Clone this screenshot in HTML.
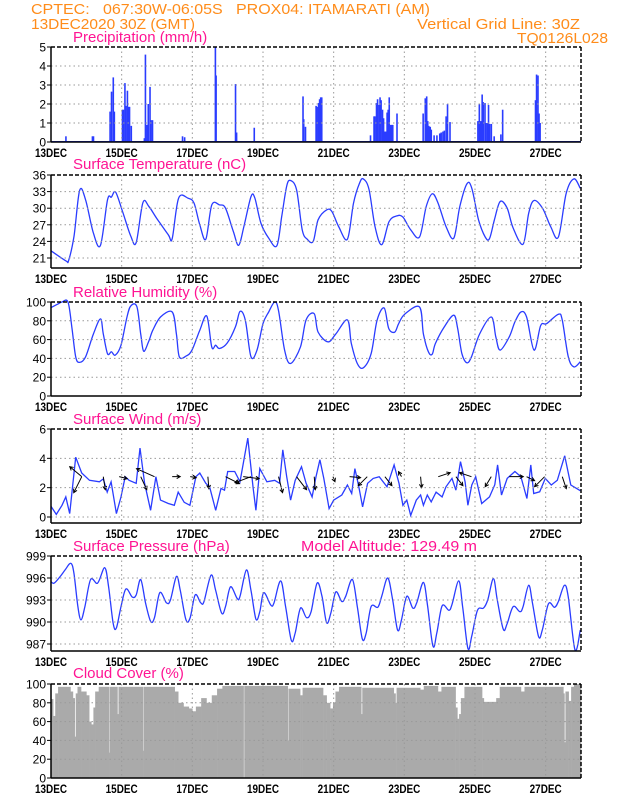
<!DOCTYPE html>
<html><head><meta charset="utf-8">
<style>
html,body{margin:0;padding:0;background:#fff;}
svg{display:block;}
text{font-family:"Liberation Sans",sans-serif;white-space:pre;}
</style></head>
<body>
<svg id="chart" width="618" height="800" viewBox="0 0 618 800" xmlns="http://www.w3.org/2000/svg" xml:space="preserve">
<g fill="#ff8c1a" font-size="15">
<text x="31" y="14" textLength="399" lengthAdjust="spacingAndGlyphs">CPTEC:   067:30W-06:05S   PROX04: ITAMARATI (AM)</text>
<text x="31" y="29" textLength="164" lengthAdjust="spacingAndGlyphs">13DEC2020 30Z (GMT)</text>
<text x="417" y="29" textLength="163" lengthAdjust="spacingAndGlyphs">Vertical Grid Line: 30Z</text>
<text x="517" y="43" textLength="91" lengthAdjust="spacingAndGlyphs">TQ0126L028</text>
</g>
<g id="plots"></g>
</svg>
<script>
// ---------- DATA ----------
const dateLabels = ["13DEC","15DEC","17DEC","19DEC","21DEC","23DEC","25DEC","27DEC"];
const precipTicks = [0,1,2,3,4,5];
const tempTicks = [21,24,27,30,33,36];
const rhTicks = [0,20,40,60,80,100];
const windTicks = [0,2,4,6];
const presTicks = [987,990,993,996,999];
const cloudTicks = [0,20,40,60,80,100];

const precipT = [0.40,1.15,1.18,1.65,1.69,1.74,1.77,2.0,2.03,2.07,2.10,2.14,2.17,2.20,2.25,2.62,2.65,2.69,2.73,2.78,2.81,2.85,3.70,3.76,4.63,4.65,5.20,5.23,5.73,7.11,7.13,7.18,7.48,7.51,7.55,7.58,7.61,7.64,9.02,9.12,9.15,9.19,9.22,9.26,9.29,9.32,9.36,9.39,9.42,9.45,9.49,9.52,9.55,9.59,9.62,9.65,9.77,10.51,10.57,10.61,10.64,10.67,10.71,10.74,10.82,10.90,10.98,11.02,11.07,11.11,11.16,11.20,11.27,12.06,12.10,12.14,12.18,12.21,12.26,12.29,12.33,12.36,12.39,12.44,12.52,12.71,12.76,13.69,13.72,13.76,13.79,13.82];
const precipV = [0.3,0.3,0.3,1.6,2.65,3.4,1.6,1.7,1.7,3.1,1.9,2.7,1.85,1.85,0.85,0.2,4.6,0.9,2.0,2.9,1.15,1.15,0.3,0.25,5.0,3.5,3.05,0.5,0.75,2.4,1.2,0.8,1.9,1.85,2.05,2.25,2.35,2.35,0.35,1.35,1.35,2.05,2.25,1.95,2.35,2.2,1.7,1.25,0.55,0.55,1.55,1.7,2.35,0.9,0.9,0.9,1.5,1.5,2.3,2.4,1.1,0.85,0.8,0.65,0.35,0.35,0.45,0.5,0.55,0.6,1.35,2.0,1.05,1.1,2.0,1.1,2.5,2.1,2.05,1.0,1.0,1.95,0.95,0.95,0.3,0.4,1.7,2.2,3.55,3.5,1.5,1.0];

const tempT = [0,0.42,0.5,0.65,0.81,0.98,1.2,1.4,1.6,1.71,1.83,2.04,2.26,2.41,2.6,2.77,2.99,3.32,3.43,3.61,3.88,4.05,4.21,4.38,4.55,4.77,4.94,5.16,5.31,5.46,5.66,5.77,5.94,6.16,6.39,6.53,6.67,6.78,6.95,7.11,7.25,7.42,7.56,7.8,7.95,8.14,8.39,8.56,8.73,8.84,9.0,9.17,9.36,9.57,9.79,9.96,10.18,10.43,10.62,10.79,10.95,11.18,11.4,11.57,11.77,11.91,12.1,12.29,12.41,12.55,12.71,12.91,13.08,13.36,13.52,13.67,13.91,14.14,14.36,14.58,14.8,14.98];
const tempV = [22.3,20.5,20.6,24.9,33.2,31.5,25.5,23.3,31.5,32.0,32.9,29.1,24.9,23.8,31.0,30.3,28.2,25.2,24.5,31.8,31.8,30.9,27.0,24.4,30.6,30.6,30.0,25.8,23.3,26.7,32.1,31.8,27.3,24.6,23.2,28.5,34.0,35.0,33.3,26.1,24.4,24.0,27.9,29.7,29.4,26.7,24.4,30.9,34.5,35.3,33.4,26.7,23.4,27.6,28.6,28.4,26.1,24.8,30.3,32.6,31.0,26.7,24.6,30.3,34.4,33.6,27.9,24.8,24.5,27.9,31.2,30.0,26.4,23.5,29.1,31.4,30.0,26.7,24.8,32.7,35.3,33.6];

const rhT = [0,0.2,0.31,0.48,0.59,0.7,0.81,0.98,1.2,1.4,1.48,1.6,1.71,1.82,1.98,2.15,2.26,2.43,2.54,2.62,2.76,2.88,3.1,3.43,3.55,3.63,3.82,3.99,4.21,4.41,4.55,4.66,4.77,4.99,5.22,5.35,5.5,5.66,5.83,6.0,6.16,6.33,6.44,6.61,6.78,7.06,7.22,7.45,7.56,7.84,8.06,8.39,8.5,8.67,8.84,9.06,9.23,9.43,9.56,9.73,9.84,10.01,10.43,10.54,10.68,10.79,10.88,11.13,11.4,11.51,11.63,11.77,11.9,12.13,12.46,12.59,12.71,12.97,13.13,13.3,13.46,13.67,13.86,14.03,14.36,14.47,14.64,14.8,14.98];
const rhV = [94,98,100,100,73.5,41.7,35.7,41.7,66,82,66,45,47,43.5,54,84,96,95,66,47.7,57.6,70,84,89.4,66,41.7,42.4,48.8,70,85,52,54,50.5,56.5,73.5,90,80.6,41.7,48.8,77,89.4,100,91,48.8,34.6,52.3,81,87.6,68,57.6,66,81,56,34.6,30,45,80.6,93.6,71.7,68,77,87,94.7,66,47,44.5,55.8,73.5,86,71.7,45,35.3,41.7,66,84,63,48.8,63,78.8,89.4,84,48.8,75,77,87,80.6,41.7,31,36.4];

const windT = [0,0.15,0.31,0.42,0.53,0.7,0.87,1.09,1.37,1.48,1.59,1.7,1.85,1.98,2.1,2.21,2.41,2.52,2.65,2.82,2.97,3.1,3.32,3.49,3.6,3.77,3.93,4.1,4.21,4.38,4.49,4.66,4.81,4.91,5.0,5.2,5.35,5.57,5.72,5.8,5.91,6.11,6.33,6.47,6.56,6.67,6.78,6.91,7.09,7.22,7.39,7.5,7.61,7.72,7.87,8.0,8.23,8.39,8.51,8.6,8.71,8.82,8.96,9.12,9.29,9.51,9.71,9.85,9.96,10.07,10.18,10.34,10.46,10.54,10.65,10.76,10.9,11.07,11.18,11.35,11.46,11.59,11.72,11.8,11.91,12.02,12.19,12.41,12.56,12.64,12.75,12.91,13.13,13.3,13.47,13.58,13.66,13.83,13.99,14.16,14.33,14.54,14.71,14.98];
const windV = [0.73,0.18,0.8,1.37,0.23,4.08,3.0,2.5,2.4,2.6,1.7,2.4,0.23,1.37,2.75,2.5,2.3,4.7,2.3,0.46,2.75,1.15,0.92,0.8,1.7,1.0,0.8,2.75,3.0,2.3,2.06,0.46,1.95,1.83,3.1,3.1,2.4,5.38,2.0,0.46,3.3,2.4,2.5,2.3,4.58,2.75,1.15,2.5,3.43,2.3,1.37,2.75,3.9,2.63,0.57,1.15,1.5,2.18,1.6,3.3,2.06,0.69,2.3,2.63,2.75,2.06,3.55,2.3,0.8,1.15,0.11,1.15,1.5,0.8,1.5,1.03,1.7,1.37,2.06,2.63,1.83,3.78,2.4,0.8,2.18,2.75,0.92,1.37,2.2,3.55,1.5,2.63,3.1,2.75,1.26,3.55,1.6,1.72,2.63,2.18,2.5,4.17,2.18,1.79];

const arrowT = [0.87,0.87,1.48,1.93,2.93,2.54,3.43,3.94,4.44,4.94,5.66,5.44,6.44,6.95,7.45,7.98,8.45,8.95,9.45,9.92,10.46,10.96,11.9,11.46,12.46,12.97,13.46,13.97,14.47];
const arrowU = [-1.2,-0.8,0.2,0.8,-1.8,0.6,0.8,0.6,0.1,1.4,-1.6,1.6,0.4,1.0,0.1,0.2,1.1,-0.9,0.7,-0.3,0.1,1.2,-1.2,0.7,-0.6,1.4,0.8,-1.0,0.4];
const arrowV = [1.0,-1.6,-1.3,-0.2,0.8,-1.3,0,-0.1,-1.2,-0.7,-0.6,-0.2,-1.6,-1.3,-1.3,-0.5,-0.1,-0.9,-0.9,0.5,-1.1,0.4,0.4,-0.9,-1.0,0,-0.4,-1.0,-1.2];
const arrowBase = 2.75;

const presT = [0,0.09,0.26,0.4,0.56,0.65,0.76,0.85,0.96,1.12,1.32,1.52,1.63,1.76,1.85,1.98,2.12,2.3,2.41,2.54,2.68,2.82,2.93,3.08,3.27,3.38,3.55,3.66,3.82,3.94,4.08,4.24,4.33,4.53,4.66,4.83,4.94,5.08,5.27,5.35,5.53,5.66,5.8,5.91,6.02,6.22,6.31,6.5,6.64,6.8,6.91,7.06,7.23,7.36,7.53,7.67,7.8,7.92,8.06,8.23,8.34,8.53,8.67,8.81,8.92,9.06,9.25,9.36,9.53,9.67,9.81,9.92,10.07,10.24,10.35,10.54,10.66,10.81,10.92,11.07,11.26,11.35,11.54,11.65,11.8,11.91,12.07,12.24,12.36,12.52,12.63,12.8,12.91,13.08,13.27,13.36,13.52,13.63,13.8,13.91,14.08,14.25,14.36,14.53,14.64,14.83,14.98];
const presV = [995.5,995.3,996.2,997.1,998.0,996.6,992.1,990.3,992.1,995.8,995.3,997.4,994.8,989.8,989.2,992.1,994.5,993.4,993.7,995.8,992.5,990.1,990.6,994.0,992.6,993.0,996.2,994.3,990.3,990.6,993.7,992.6,992.8,996.4,994.3,991.2,992.1,994.8,993.2,993.5,997.1,994.3,990.4,991.4,994.0,992.3,992.6,995.6,992.1,987.5,988.5,991.9,990.6,991.4,995.3,993.5,989.9,991.2,994.1,992.8,993.5,995.8,992.1,987.7,988.5,992.1,992.0,993.5,996.0,993.0,988.9,990.3,993.5,991.9,992.6,995.4,992.1,986.7,988.5,992.2,991.6,992.4,995.6,992.1,986.4,988.1,991.6,991.9,993.0,995.9,993.0,989.0,989.8,992.1,991.4,992.1,995.0,992.5,988.0,989.0,992.5,992.0,992.8,995.0,993.4,986.2,988.9];

const cloudT = [0,0.06,0.12,0.2,0.55,0.62,0.67,0.7,0.75,0.85,1.0,1.08,1.14,1.2,1.25,1.35,1.64,1.66,1.88,1.91,2.6,2.62,3.5,3.6,3.75,3.9,4.0,4.1,4.25,4.4,4.55,4.7,4.85,5.45,5.47,6.7,6.72,7.05,7.12,7.7,7.8,7.9,7.98,8.05,8.15,8.78,8.81,9.7,9.75,9.78,10.45,10.55,10.95,11.05,11.45,11.5,11.55,11.6,11.7,12.2,12.25,12.6,12.7,13.3,13.4,14.5,14.53,14.56,14.65,14.72,14.8];
const cloudV = [84,66,90,97,92,85,44,90,97,92,88,60,57,75,92,97,27,97,68,97,29,97,92,80,76,74,71,76,85,80,88,95,98,0,98,40,95,88,96,88,80,74,80,92,97,68,96,90,80,96,94,98,92,97,75,63,68,85,97,85,81,85,97,92,97,90,38,92,82,97,100];

// ---------- LAYOUT ----------
const NS = "http://www.w3.org/2000/svg";
const X0 = 51, X1 = 581, DAYS = 15;
function xs(t){ return X0 + t * (X1 - X0) / DAYS; }
const root = document.getElementById('plots');
function el(tag, attrs, parent){
  const e = document.createElementNS(NS, tag);
  for (const k in attrs) e.setAttribute(k, attrs[k]);
  (parent || root).appendChild(e);
  return e;
}
function makeY(v0, p0, v1, p1){ return v => p0 + (v - v0) * (p1 - p0) / (v1 - v0); }

function panel(name, title, top, bottom, ys, ticks, titleY, extra){
  const g = el('g', {});
  
  
  const content = el('g', {}, g);
  
  
  extra(content);
  for (let d = 2; d < DAYS; d += 2){
    const l = el('line', {x1: xs(d), x2: xs(d), y1: top, y2: bottom, stroke: '#999', 'stroke-width': 1, 'stroke-dasharray': '1.5,3'}, g);
    
    
  }
  ticks.forEach(v => {
    const y = ys(v);
    if (y > top + 1 && y < bottom - 1){
      const l = el('line', {x1: X0, x2: X1, y1: y, y2: y, stroke: '#999', 'stroke-width': 1, 'stroke-dasharray': '1.5,3'}, g);
      
      
    }
    const tk = el('line', {x1: X0 - 4, x2: X0, y1: y, y2: y, stroke: '#000', 'stroke-width': 1}, g);
    
    
    const tx = el('text', {x: X0 - 5, y: y + 4.5, 'text-anchor': 'end', 'font-size': 12, fill: '#000'}, g);
    tx.textContent = String(v);
    
    
  });
  const fr = el('g', {}, g);
  
  
  el('line', {x1: X0, x2: X1, y1: top, y2: top, stroke: '#000', 'stroke-width': 1.5, 'stroke-dasharray': '4,2'}, fr);
  el('line', {x1: X0, x2: X1, y1: bottom, y2: bottom, stroke: '#000', 'stroke-width': 1.5}, fr);
  el('line', {x1: X0, x2: X0, y1: top, y2: bottom, stroke: '#000', 'stroke-width': 1.5}, fr);
  el('line', {x1: X1, x2: X1, y1: top, y2: bottom, stroke: '#000', 'stroke-width': 1.5, 'stroke-dasharray': '4,2'}, fr);
  dateLabels.forEach((lab, i) => {
    const tx = el('text', {x: xs(i * 2), y: bottom + 15, 'text-anchor': 'middle', 'font-size': 12, 'font-weight': 'bold', fill: '#000', textLength: 32, lengthAdjust: 'spacingAndGlyphs'}, g);
    tx.textContent = lab;
    
    
  });
  const tt = el('text', {x: 73, y: titleY, 'font-size': 15, fill: '#ff1493'}, g);
  tt.textContent = title;
  
  
  return g;
}

function smoothPath(T, V, ys){
  const P = T.map((t, i) => [xs(t), ys(V[i])]);
  let d = 'M' + P[0][0].toFixed(1) + ',' + P[0][1].toFixed(1);
  for (let i = 0; i < P.length - 1; i++){
    const p0 = P[i - 1] || P[i], p1 = P[i], p2 = P[i + 1], p3 = P[i + 2] || P[i + 1];
    const c1 = [p1[0] + (p2[0] - p0[0]) / 6, p1[1] + (p2[1] - p0[1]) / 6];
    const c2 = [p2[0] - (p3[0] - p1[0]) / 6, p2[1] - (p3[1] - p1[1]) / 6];
    d += 'C' + c1.map(n=>n.toFixed(1)).join(',') + ' ' + c2.map(n=>n.toFixed(1)).join(',') + ' ' + p2.map(n=>n.toFixed(1)).join(',');
  }
  return d;
}
function linePath(T, V, ys){
  return T.map((t, i) => (i ? 'L' : 'M') + xs(t).toFixed(1) + ',' + ys(V[i]).toFixed(1)).join('');
}
const BLUE = '#2a3cff';

const yP = makeY(0, 142, 5, 47);
panel('precipitation', 'Precipitation (mm/h)', 47, 142, yP, precipTicks, 42, g => {
  el('line', {x1: X0, x2: X1, y1: 141.5, y2: 141.5, stroke: BLUE, 'stroke-width': 1}, g);
  precipT.forEach((t, i) => {
    const r = el('rect', {x: xs(t), y: yP(precipV[i]), width: 1.6, height: yP(0) - yP(precipV[i]), fill: BLUE}, g);
    
    
  });
});

const yT = makeY(21, 258, 36, 175);
panel('temperature', 'Surface Temperature (nC)', 175, 268, yT, tempTicks, 169, g => {
  const p = el('path', {d: smoothPath(tempT, tempV, yT), fill: 'none', stroke: BLUE, 'stroke-width': 1.3}, g);
  
  
});

const yR = makeY(0, 396, 100, 302);
panel('humidity', 'Relative Humidity (%)', 302, 396, yR, rhTicks, 297, g => {
  const p = el('path', {d: smoothPath(rhT, rhV, yR), fill: 'none', stroke: BLUE, 'stroke-width': 1.3}, g);
  
  
});

const yW = makeY(0, 517, 6, 429);
panel('wind', 'Surface Wind (m/s)', 429, 523, yW, windTicks, 424, g => {
  const p = el('path', {d: linePath(windT, windV, yW), fill: 'none', stroke: BLUE, 'stroke-width': 1.3}, g);
  
  
  const S = 10;
  arrowT.forEach((t, i) => {
    const x1 = xs(t), y1 = yW(arrowBase);
    const x2 = x1 + arrowU[i] * S, y2 = y1 - arrowV[i] * S;
    const ang = Math.atan2(y2 - y1, x2 - x1);
    const h = 4;
    const a = el('path', {d: 'M' + x1 + ',' + y1 + 'L' + x2 + ',' + y2 +
      'M' + (x2 - h * Math.cos(ang - 0.5)) + ',' + (y2 - h * Math.sin(ang - 0.5)) + 'L' + x2 + ',' + y2 +
      'L' + (x2 - h * Math.cos(ang + 0.5)) + ',' + (y2 - h * Math.sin(ang + 0.5)),
      fill: 'none', stroke: '#000', 'stroke-width': 1}, g);
    
    
  });
});

const yPr = makeY(987, 644, 999, 556);
const pg = panel('pressure', 'Surface Pressure (hPa)', 556, 651, yPr, presTicks, 551, g => {
  const p = el('path', {d: smoothPath(presT, presV, yPr), fill: 'none', stroke: BLUE, 'stroke-width': 1.3}, g);
  
  
});
const alt = el('text', {x: 301, y: 551, 'font-size': 15, fill: '#ff1493', textLength: 176, lengthAdjust: 'spacingAndGlyphs'}, pg);
alt.textContent = 'Model Altitude: 129.49 m';



const yC = makeY(0, 778, 100, 684);
panel('cloud', 'Cloud Cover (%)', 684, 778, yC, cloudTicks, 678, g => {
  cloudT.forEach((t, i) => {
    const tEnd = i < cloudT.length - 1 ? cloudT[i + 1] : DAYS;
    const r = el('rect', {x: xs(t), y: yC(cloudV[i]), width: Math.max(0.8, xs(tEnd) - xs(t) + 0.3), height: yC(0) - yC(cloudV[i]), fill: '#aaaaaa'}, g);
    
    
  });
});
</script>
</body></html>
